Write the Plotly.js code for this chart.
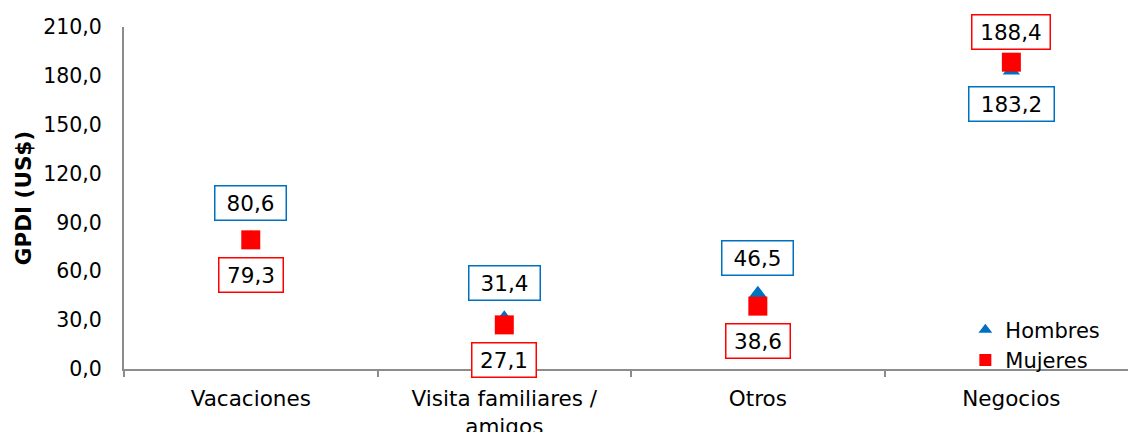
<!DOCTYPE html>
<html>
<head>
<meta charset="utf-8">
<script src="https://cdn.plot.ly/plotly-3.0.1.min.js"></script>
<style>
html,body{margin:0;padding:0;background:#fff;}
#chart{width:1128px;height:432px;}
</style>
</head>
<body>
<div id="chart"></div>
<script>
const categories = ["Vacaciones", "Visita familiares /<br>amigos", "Otros", "Negocios"];
const hombres = [80.6, 31.4, 46.5, 183.2];
const mujeres = [79.3, 27.1, 38.6, 188.4];
const yTickVals = [0, 30, 60, 90, 120, 150, 180, 210];
const yTickText = ["0,0", "30,0", "60,0", "90,0", "120,0", "150,0", "180,0", "210,0"];

const BLUE = "#0070C0";
const RED = "#FF0000";
const FONT = "DejaVu Sans, Verdana, sans-serif";

function fmt(v) { return v.toFixed(1).replace(".", ","); }

const traces = [
  {
    x: categories, y: hombres, name: "Hombres", type: "scatter", mode: "markers",
    marker: {symbol: "triangle-up", color: BLUE, size: 15},
    hoverinfo: "skip"
  },
  {
    x: categories, y: mujeres, name: "Mujeres", type: "scatter", mode: "markers",
    marker: {symbol: "square", color: RED, size: 19},
    hoverinfo: "skip"
  }
];

const annotations = [];
categories.forEach((c, i) => {
  const hAbove = hombres[i] >= mujeres[i];
  const hTxt = fmt(hombres[i]);
  const mTxt = fmt(mujeres[i]);
  annotations.push({
    x: c, y: hombres[i], xref: "x", yref: "y", text: hTxt, showarrow: false,
    yshift: hAbove ? 35 : -33,
    font: {family: FONT, size: 21.5, color: "#000"},
    bgcolor: "#fff", bordercolor: BLUE, borderwidth: 1.5, borderpad: 4,
    width: hTxt.length > 4 ? 76 : 62, height: 25, align: "center"
  });
  annotations.push({
    x: c, y: mujeres[i], xref: "x", yref: "y", text: mTxt, showarrow: false,
    yshift: hAbove ? -35 : 30,
    font: {family: FONT, size: 21.5, color: "#000"},
    bgcolor: "#fff", bordercolor: RED, borderwidth: 1.5, borderpad: 4,
    width: mTxt.length > 4 ? 69 : 55, height: 25, align: "center"
  });
});

const layout = {
  width: 1128, height: 432,
  margin: {l: 124, r: 0, t: 27, b: 63},
  paper_bgcolor: "#fff", plot_bgcolor: "#fff",
  font: {family: FONT, size: 21, color: "#000"},
  showlegend: true,
  legend: {
    x: 0.838, xanchor: "left", y: 0.07, yanchor: "middle",
    bgcolor: "rgba(0,0,0,0)", font: {family: FONT, size: 21, color: "#000"},
    tracegroupgap: 0, itemsizing: "constant"
  },
  xaxis: {
    type: "category", range: [-0.5, 3.46],
    showline: true, linecolor: "#8c8c8c", linewidth: 2,
    showgrid: false, zeroline: false,
    ticks: "outside", tickson: "boundaries", ticklen: 6, tickcolor: "#8c8c8c", tickwidth: 2,
    ticklabelstandoff: 9,
    tickfont: {family: FONT, size: 21.5, color: "#000"}, fixedrange: true
  },
  yaxis: {
    range: [0, 210], tickvals: yTickVals, ticktext: yTickText,
    showline: true, linecolor: "#8c8c8c", linewidth: 2,
    showgrid: false, zeroline: false,
    ticks: "outside", ticklen: 16, tickcolor: "rgba(0,0,0,0)",
    tickfont: {family: FONT, size: 20.5, color: "#000"},
    title: {text: "<b>GPDI (US$)</b>", font: {family: FONT, size: 21.5, color: "#000"}, standoff: 6},
    fixedrange: true
  },
  annotations: annotations
};

Plotly.newPlot("chart", traces, layout, {displayModeBar: false, staticPlot: true});
</script>
</body>
</html>
